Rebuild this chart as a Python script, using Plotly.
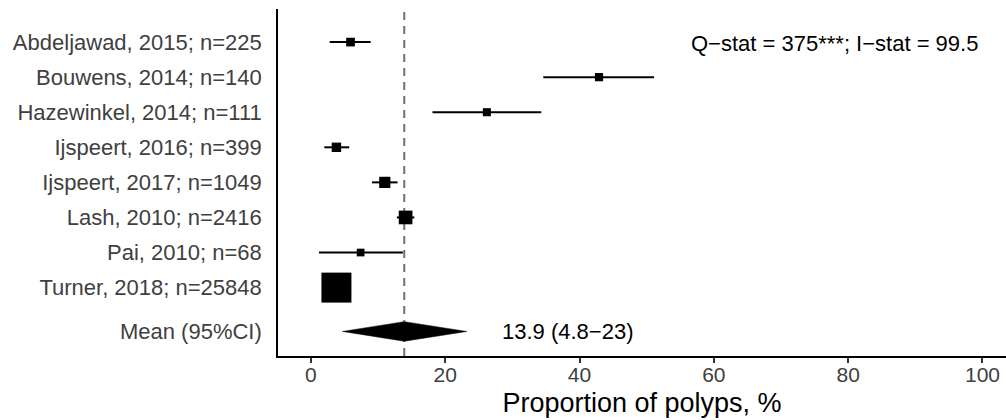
import plotly.graph_objects as go

# ---- data ----
studies = ["Abdeljawad, 2015; n=225", "Bouwens, 2014; n=140", "Hazewinkel, 2014; n=111",
           "Ijspeert, 2016; n=399", "Ijspeert, 2017; n=1049", "Lash, 2010; n=2416",
           "Pai, 2010; n=68", "Turner, 2018; n=25848"]
n_sizes = [225, 140, 111, 399, 1049, 2416, 68, 25848]
prop = [5.9, 42.9, 26.2, 3.8, 11.0, 14.1, 7.4, 3.8]
ci_low = [2.8, 34.6, 18.1, 2.0, 9.1, 12.8, 1.2, 3.3]
ci_high = [8.9, 51.1, 34.3, 5.7, 12.9, 15.4, 13.7, 4.3]
mean_label = "Mean (95%CI)"
mean_val = 13.9
mean_low = 4.8
mean_high = 23
q_stat = "375***"
i_stat = 99.5
x_ticks = [0, 20, 40, 60, 80, 100]

FONT = "Liberation Sans, Arial, sans-serif"

ypos = list(range(1, len(studies) + 1))
y_mean = len(studies) + 1.25
sizes = [6.5 + 0.146 * (v ** 0.5) for v in n_sizes]

fig = go.Figure()

# study points with CIs
fig.add_trace(go.Scatter(
    x=prop, y=ypos, mode="markers",
    marker=dict(symbol="square", size=sizes, color="black", opacity=1, line=dict(width=0)),
    error_x=dict(type="data", symmetric=False,
                 array=[h - p for h, p in zip(ci_high, prop)],
                 arrayminus=[p - l for p, l in zip(prop, ci_low)],
                 color="black", thickness=2, width=0),
    showlegend=False, hoverinfo="skip"))

# mean diamond
h = 0.28
fig.add_trace(go.Scatter(
    x=[mean_low - 0.1, mean_val, mean_high + 0.2, mean_val, mean_low - 0.1],
    y=[y_mean, y_mean - h, y_mean, y_mean + h, y_mean],
    mode="lines", fill="toself", fillcolor="black",
    line=dict(color="black", width=0.5),
    showlegend=False, hoverinfo="skip"))

# dashed reference line at the mean
fig.add_shape(type="line", x0=mean_val, x1=mean_val, xref="x", y0=0, y1=1, yref="paper",
              line=dict(color="#707070", width=2, dash="8px,6px"), layer="below")

fig.add_annotation(x=28.2, y=y_mean, xref="x", yref="y", xanchor="left", yanchor="middle",
                   text=f"{mean_val} ({mean_low}\u2212{mean_high})", showarrow=False,
                   font=dict(family=FONT, size=22, color="black"))
fig.add_annotation(x=99.6, y=1.05, xref="x", yref="y", xanchor="right", yanchor="middle",
                   text=f"Q\u2212stat = {q_stat}; I\u2212stat = {i_stat}", showarrow=False,
                   font=dict(family=FONT, size=22, color="black"))

fig.update_layout(
    width=1006, height=420,
    margin=dict(l=278, r=0, t=9, b=64),
    plot_bgcolor="white", paper_bgcolor="white",
    font=dict(family=FONT, size=22, color="black"),
    xaxis=dict(range=[-4.9, 103.5], tickvals=x_ticks, ticktext=[str(t) for t in x_ticks],
               showline=True, linecolor="black", linewidth=1.6,
               ticks="outside", ticklen=5, tickwidth=1.6, tickcolor="#333333",
               showgrid=False, zeroline=False, ticklabelstandoff=-6,
               tickfont=dict(family=FONT, size=21, color="#404040"),
               title=dict(text="Proportion of polyps, %", standoff=8,
                          font=dict(family=FONT, size=27, color="black")),
               automargin=False),
    yaxis=dict(range=[y_mean + 0.7, 0.057], tickvals=ypos + [y_mean],
               ticktext=studies + [mean_label],
               showline=True, linecolor="black", linewidth=1.6,
               ticks="", showgrid=False, zeroline=False, ticklabelstandoff=10,
               tickfont=dict(family=FONT, size=22, color="#404040"),
               automargin=False),
)

fig.write_html("out.html")
